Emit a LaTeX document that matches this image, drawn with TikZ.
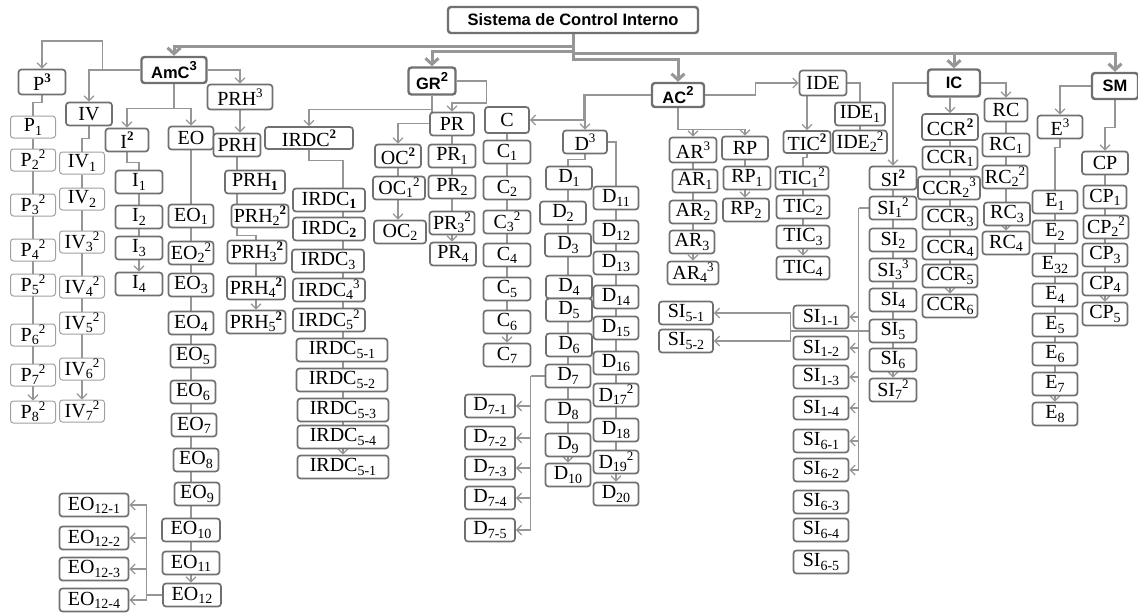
\documentclass[tikz,border=0pt]{standalone}
\usepackage{fontspec}
\setmainfont{Liberation Serif}
\setsansfont{Liberation Sans}
\usepackage{tikz}
\usetikzlibrary{backgrounds, arrows.meta, positioning}
\definecolor{boxgray}{RGB}{112,112,112}
\definecolor{lightbox}{RGB}{160,160,160}
\definecolor{linegray}{RGB}{150,150,150}
\newcommand{\sbs}[1]{\raisebox{-0.35ex}{\fontsize{14}{14}\selectfont #1}}
\newcommand{\sps}[1]{\raisebox{0.85ex}{\fontsize{13}{13}\selectfont #1}}
\newcommand{\bsps}[1]{\sps{\bfseries #1}}

\begin{document}
\begin{tikzpicture}[
    x=1pt, y=-1pt,
    box/.style={draw=boxgray, line width=1.7pt, rounded corners=3pt, fill=white, minimum height=23pt, minimum width=46pt, inner sep=1pt, font=\fontsize{20}{22}\selectfont},
    thinbox/.style={box, draw=lightbox, line width=1pt, minimum height=22pt},
    head/.style={box, line width=2.4pt, minimum height=26pt, font=\sffamily\bfseries\fontsize{16.5}{18}\selectfont},
    bw/.style={minimum width=#1pt},
    link/.style={draw=linegray, line width=1.2pt},
    arrow/.style={link, -{Straight Barb[length=5pt,width=10pt]}},
    mainarrow/.style={draw=linegray, line width=3pt, -{Straight Barb[length=6pt,width=13pt]}},
  ]
  \useasboundingbox (0,0) rectangle (1138,613);

  % Top level
  \node[head, bw=250] (sci) at (573,20) {Sistema de Control Interno};
  \node[head, bw=65] (amc) at (174,70) {AmC\sps{3}};
  \node[head, bw=47, minimum height=27pt] (gr) at (432,81) {GR\sps{2}};
  \node[head, bw=52, minimum height=24pt] (ac) at (678,95) {AC\sps{2}};
  \node[head, bw=52, minimum height=27pt] (ic) at (954,83) {IC};
  \node[head, bw=46] (sm) at (1115,86) {SM};

  % P column
  \node[box, bw=47, minimum height=25pt] (ph) at (42,82) {P\bsps{3}};
  \node[thinbox, bw=45] (p1) at (33,127) {P\sbs{1}};
  \node[thinbox, bw=45] (p2) at (33,160) {P\sbs{2}\sps{2}};
  \node[thinbox, bw=45] (p3) at (33,205) {P\sbs{3}\sps{2}};
  \node[thinbox, bw=45] (p4) at (33,250) {P\sbs{4}\sps{2}};
  \node[thinbox, bw=45] (p5) at (33,285) {P\sbs{5}\sps{2}};
  \node[thinbox, bw=45] (p6) at (33,335) {P\sbs{6}\sps{2}};
  \node[thinbox, bw=45] (p7) at (33,375) {P\sbs{7}\sps{2}};
  \node[thinbox, bw=45] (p8) at (33,412) {P\sbs{8}\sps{2}};

  % IV column
  \node[box, bw=46] (ivh) at (89,114) {IV};
  \node[thinbox, bw=45] (iv1) at (82,163) {IV\sbs{1}};
  \node[thinbox, bw=45] (iv2) at (82,199) {IV\sbs{2}};
  \node[thinbox, bw=45] (iv3) at (82,242) {IV\sbs{3}\sps{2}};
  \node[thinbox, bw=45] (iv4) at (82,287) {IV\sbs{4}\sps{2}};
  \node[thinbox, bw=45] (iv5) at (82,323) {IV\sbs{5}\sps{2}};
  \node[thinbox, bw=45] (iv6) at (82,369) {IV\sbs{6}\sps{2}};
  \node[thinbox, bw=45] (iv7) at (82,411) {IV\sbs{7}\sps{2}};

  % I column
  \node[box, bw=43] (ih) at (127,140) {I\bsps{2}};
  \node[box, bw=47] (i1) at (139,182) {I\sbs{1}};
  \node[box, bw=47] (i2) at (139,217) {I\sbs{2}};
  \node[box, bw=47] (i3) at (139,248) {I\sbs{3}};
  \node[box, bw=47] (i4) at (139,284) {I\sbs{4}};

  % EO column
  \node[box, bw=45] (eoh) at (191,138) {EO};
  \node[box, bw=45] (eo1) at (191,216) {EO\sbs{1}};
  \node[box, bw=45] (eo2) at (191,253) {EO\sbs{2}\sps{2}};
  \node[box, bw=45] (eo3) at (191,285) {EO\sbs{3}};
  \node[box, bw=45] (eo4) at (191,323) {EO\sbs{4}};
  \node[box, bw=45] (eo5) at (193,356) {EO\sbs{5}};
  \node[box, bw=45] (eo6) at (193,392) {EO\sbs{6}};
  \node[box, bw=45] (eo7) at (194,425) {EO\sbs{7}};
  \node[box, bw=45] (eo8) at (196,460) {EO\sbs{8}};
  \node[box, bw=45] (eo9) at (197,494) {EO\sbs{9}};
  \node[box, bw=58] (eo10) at (191,530) {EO\sbs{10}};
  \node[box, bw=57] (eo11) at (191,563) {EO\sbs{11}};
  \node[box, bw=58] (eo12) at (192,595) {EO\sbs{12}};
  \node[box, bw=69] (eoa) at (94,505) {EO\sbs{12-1}};
  \node[box, bw=69] (eob) at (94,538) {EO\sbs{12-2}};
  \node[box, bw=69] (eoc) at (94,569) {EO\sbs{12-3}};
  \node[box, bw=69] (eod) at (94,600) {EO\sbs{12-4}};

  % PRH column
  \node[box, bw=65, minimum height=25pt] (prhh) at (240,97) {PRH\sps{3}};
  \node[box, bw=47] (prh) at (237,145) {PRH};
  \node[box, bw=60] (prh1) at (255,182) {PRH\sbs{\bfseries 1}};
  \node[box, bw=57] (prh2) at (260,216) {PRH\sbs{2}\bsps{2}};
  \node[box, bw=59] (prh3) at (257,252) {PRH\sbs{3}\bsps{2}};
  \node[box, bw=58] (prh4) at (256,288) {PRH\sbs{4}\bsps{2}};
  \node[box, bw=59] (prh5) at (256,322) {PRH\sbs{5}\bsps{2}};

  % IRDC column
  \node[box, bw=88, minimum height=22pt] (irdch) at (309,138) {IRDC\bsps{2}};
  \node[box, bw=72] (irdc1) at (329,200) {IRDC\sbs{\bfseries 1}};
  \node[box, bw=72] (irdc2) at (329,229) {IRDC\sbs{\bfseries 2}};
  \node[box, bw=72] (irdc3) at (328,261) {IRDC\sbs{3}};
  \node[box, bw=72] (irdc4) at (329,290) {IRDC\sbs{4}\sps{3}};
  \node[box, bw=72] (irdc5) at (329,320) {IRDC\sbs{5}\sps{2}};
  \node[box, bw=91] (irdca) at (342,350) {IRDC\sbs{5-1}};
  \node[box, bw=91] (irdcb) at (342,380) {IRDC\sbs{5-2}};
  \node[box, bw=91] (irdcc) at (343,410) {IRDC\sbs{5-3}};
  \node[box, bw=91] (irdcd) at (343,437) {IRDC\sbs{5-4}};
  \node[box, bw=91] (irdce) at (343,467) {IRDC\sbs{5-1}};

  % OC and PR columns
  \node[box, bw=46] (och) at (398,156) {OC\bsps{2}};
  \node[box, bw=52] (oc1) at (399,188) {OC\sbs{1}\sps{2}};
  \node[box, bw=52] (oc2) at (400,232) {OC\sbs{2}};
  \node[box, bw=44] (prg) at (452,124) {PR};
  \node[box, bw=47] (pr1) at (452,156) {PR\sbs{1}};
  \node[box, bw=47] (pr2) at (452,187) {PR\sbs{2}};
  \node[box, bw=45] (pr3) at (452,223) {PR\sbs{3}\sps{2}};
  \node[box, bw=46] (pr4) at (453,254) {PR\sbs{4}};

  % C column
  \node[box, bw=44, minimum height=26pt] (ch) at (507,120) {C};
  \node[box, bw=47] (c1) at (507,152) {C\sbs{1}};
  \node[box, bw=47] (c2) at (507,188) {C\sbs{2}};
  \node[box, bw=47] (c3) at (507,222) {C\sbs{3}\sps{2}};
  \node[box, bw=47] (c4) at (507,255) {C\sbs{4}};
  \node[box, bw=47] (c5) at (507,289) {C\sbs{5}};
  \node[box, bw=47] (c6) at (507,322) {C\sbs{6}};
  \node[box, bw=47] (c7) at (507,355) {C\sbs{7}};

  % D columns
  \node[box, bw=44] (dh) at (585,142) {D\sps{3}};
  \node[box, bw=46] (d1) at (569,178) {D\sbs{1}};
  \node[box, bw=46] (d2) at (563,213) {D\sbs{2}};
  \node[box, bw=46] (d3) at (568,245) {D\sbs{3}};
  \node[box, bw=46] (d4) at (569,287) {D\sbs{4}};
  \node[box, bw=46] (d5) at (569,310) {D\sbs{5}};
  \node[box, bw=46] (d6) at (569,345) {D\sbs{6}};
  \node[box, bw=45] (d7) at (568,376) {D\sbs{7}};
  \node[box, bw=45] (d8) at (568,411) {D\sbs{8}};
  \node[box, bw=45] (d9) at (568,445) {D\sbs{9}};
  \node[box, bw=45] (d10) at (568,475) {D\sbs{10}};
  \node[box, bw=45] (d11) at (616,198) {D\sbs{11}};
  \node[box, bw=45] (d12) at (616,232) {D\sbs{12}};
  \node[box, bw=45] (d13) at (616,263) {D\sbs{13}};
  \node[box, bw=45] (d14) at (616,297) {D\sbs{14}};
  \node[box, bw=45] (d15) at (616,328) {D\sbs{15}};
  \node[box, bw=45] (d16) at (616,363) {D\sbs{16}};
  \node[box, bw=45] (d17) at (616,395) {D\sbs{17}\sps{2}};
  \node[box, bw=45] (d18) at (616,430) {D\sbs{18}};
  \node[box, bw=45] (d19) at (616,462) {D\sbs{19}\sps{2}};
  \node[box, bw=45] (d20) at (616,494) {D\sbs{20}};
  \node[box, bw=50] (d7a) at (490,406) {D\sbs{7-1}};
  \node[box, bw=50] (d7b) at (490,438) {D\sbs{7-2}};
  \node[box, bw=50] (d7c) at (490,468) {D\sbs{7-3}};
  \node[box, bw=50] (d7d) at (490,498) {D\sbs{7-4}};
  \node[box, bw=50] (d7e) at (490,530) {D\sbs{7-5}};

  % AR and RP columns
  \node[box, bw=47, minimum height=25pt] (arh) at (693,150) {AR\sps{3}};
  \node[box, bw=45] (ar1) at (695,181) {AR\sbs{1}};
  \node[box, bw=47] (ar2) at (693,212) {AR\sbs{2}};
  \node[box, bw=45] (ar3) at (692,242) {AR\sbs{3}};
  \node[box, bw=51] (ar4) at (693,273) {AR\sbs{4}\sps{3}};
  \node[box, bw=46] (rph) at (745,148) {RP};
  \node[box, bw=47] (rp1) at (747,178) {RP\sbs{1}};
  \node[box, bw=46] (rp2) at (746,210) {RP\sbs{2}};

  % IDE and TIC
  \node[box, bw=47, minimum height=25pt] (ideh) at (823,83) {IDE};
  \node[box, bw=50] (ide1) at (860,114) {IDE\sbs{1}};
  \node[box, bw=54] (ide2) at (860,142) {IDE\sbs{2}\sps{2}};
  \node[box, bw=47, minimum height=22pt] (tich) at (807,142) {TIC\bsps{2}};
  \node[box, bw=53] (tic1) at (802,178) {TIC\sbs{1}\sps{2}};
  \node[box, bw=53] (tic2) at (803,207) {TIC\sbs{2}};
  \node[box, bw=53] (tic3) at (803,237) {TIC\sbs{3}};
  \node[box, bw=53] (tic4) at (803,268) {TIC\sbs{4}};

  % CCR and RC columns
  \node[box, bw=56, minimum height=26pt] (ccrh) at (950,127) {CCR\bsps{2}};
  \node[box, bw=55] (ccr1) at (950,158) {CCR\sbs{1}};
  \node[box, bw=62] (ccr2) at (949,188) {CCR\sbs{2}\sps{3}};
  \node[box, bw=55] (ccr3) at (950,218) {CCR\sbs{3}};
  \node[box, bw=55] (ccr4) at (950,248) {CCR\sbs{4}};
  \node[box, bw=55] (ccr5) at (950,276) {CCR\sbs{5}};
  \node[box, bw=55] (ccr6) at (950,306) {CCR\sbs{6}};
  \node[box, bw=43] (rch) at (1006,110) {RC};
  \node[box, bw=47] (rc1) at (1006,145) {RC\sbs{1}};
  \node[box, bw=45] (rc2) at (1005,177) {RC\sbs{2}\sps{2}};
  \node[box, bw=46] (rc3) at (1007,214) {RC\sbs{3}};
  \node[box, bw=47] (rc4) at (1006,243) {RC\sbs{4}};

  % SI column
  \node[box, bw=47] (sih) at (893,178) {SI\bsps{2}};
  \node[box, bw=47] (si1) at (893,208) {SI\sbs{1}\sps{2}};
  \node[box, bw=47] (si2) at (893,240) {SI\sbs{2}};
  \node[box, bw=47] (si3) at (893,270) {SI\sbs{3}\sps{3}};
  \node[box, bw=47] (si4) at (893,300) {SI\sbs{4}};
  \node[box, bw=47] (si5) at (893,331) {SI\sbs{5}};
  \node[box, bw=47] (si6) at (893,360) {SI\sbs{6}};
  \node[box, bw=47] (si7) at (893,390) {SI\sbs{7}\sps{2}};
  \node[box, bw=55] (si1a) at (821,317) {SI\sbs{1-1}};
  \node[box, bw=55] (si1b) at (821,348) {SI\sbs{1-2}};
  \node[box, bw=55] (si1c) at (821,377) {SI\sbs{1-3}};
  \node[box, bw=55] (si1d) at (821,408) {SI\sbs{1-4}};
  \node[box, bw=55] (si6a) at (821,441) {SI\sbs{6-1}};
  \node[box, bw=55] (si6b) at (821,470) {SI\sbs{6-2}};
  \node[box, bw=55] (si6c) at (821,502) {SI\sbs{6-3}};
  \node[box, bw=55] (si6d) at (821,530) {SI\sbs{6-4}};
  \node[box, bw=55] (si6e) at (821,562) {SI\sbs{6-5}};
  \node[box, bw=54] (si5a) at (686,313) {SI\sbs{5-1}};
  \node[box, bw=54] (si5b) at (686,341) {SI\sbs{5-2}};

  % E and CP columns
  \node[box, bw=45] (eh) at (1060,127) {E\sps{3}};
  \node[box, bw=45] (e1) at (1055,202) {E\sbs{1}};
  \node[box, bw=45] (e2) at (1055,232) {E\sbs{2}};
  \node[box, bw=45] (e3) at (1055,265) {E\sbs{32}};
  \node[box, bw=45] (e4) at (1055,295) {E\sbs{4}};
  \node[box, bw=45] (e5) at (1055,325) {E\sbs{5}};
  \node[box, bw=45] (e6) at (1055,354) {E\sbs{6}};
  \node[box, bw=45] (e7) at (1055,384) {E\sbs{7}};
  \node[box, bw=45] (e8) at (1055,414) {E\sbs{8}};
  \node[box, bw=46] (cph) at (1105,163) {CP};
  \node[box, bw=43] (cp1) at (1105,197) {CP\sbs{1}};
  \node[box, bw=45] (cp2) at (1106,227) {CP\sbs{2}\sps{2}};
  \node[box, bw=45] (cp3) at (1105,255) {CP\sbs{3}};
  \node[box, bw=45] (cp4) at (1105,284) {CP\sbs{4}};
  \node[box, bw=45] (cp5) at (1105,314) {CP\sbs{5}};

  % Connectors behind the boxes
  \begin{scope}[on background layer]
    % main branches
    \draw[mainarrow] (sci.south) -- ++(0,12) -| (amc.north);
    \draw[mainarrow] (sci.south) -- ++(0,17) -| (gr.north);
    \draw[mainarrow] (sci.south) -- ++(0,25) -| (ac.north);
    \draw[mainarrow] (sci.south) -- ++(0,19) -| (ic.north);
    \draw[mainarrow] (sci.south) -- ++(0,19) -| (sm.north);

    % AmC
    \draw[arrow] (amc.west) -| ++(-38,-29) -| (ph.north);
    \draw[arrow] (amc.west) -| (ivh.north);
    \draw[arrow] (amc.east) -| (prhh.north);
    \draw[arrow] (amc.south) -- ++(0,24) -| (ih.north);
    \draw[arrow] (amc.south) -- ++(0,24) -| (eoh.north);
    \draw[link] (ph.south) -- ++(0,7) -| (p1.north);
    \draw[arrow] (p1.south) -- (p8.north);
    \draw[link] (ivh.south) -- ++(0,12) -| (iv1.north);
    \draw[arrow] (iv1.south) -- (iv7.north);
    \draw[link] (ih.south) -- ++(0,10) -| (i1.north);
    \draw[arrow] (i1.south) -- (i4.north);
    \draw[arrow] (eoh.south) -- (eoh.south |- eo12.north);
    \draw[link] (eo12.west) -- ++(-16,0) coordinate (eobr);
    \foreach \k in {eoa,eob,eoc,eod} \draw[arrow] (eobr) |- (\k.east);
    \draw[arrow] (prhh.south) -- (prhh.south |- prh.north);
    \draw[arrow] (prh.south) -- ++(0,78) -| (prh5.north);

    % GR
    \draw[arrow] (gr.south) -- ++(0,14) -| (irdch.north);
    \draw[arrow] (gr.south) -- ++(0,28) -| (och.north);
    \draw[arrow] (gr.east) -- ++(30,0) -- ++(0,22) -| (prg.north);
    \draw[arrow] (irdch.south) -- ++(0,11) -| (irdce.north);
    \draw[arrow] (och.south) -- (och.south |- oc2.north);
    \draw[arrow] (prg.south) -- (prg.south |- pr4.north);

    % AC
    \draw[arrow] (ac.west) -| (dh.north);
    \draw[arrow] (ac.west) -| ++(-67,25) -- (ch.east);
    \draw[arrow] (ch.south) -- (ch.south |- c7.north);
    \draw[arrow] (dh.south) -- ++(0,5) -| (d10.north);
    \draw[arrow] (dh.east) -| (d20.north);
    \draw[link] (d7.west) -- ++(-14,0) coordinate (dbr);
    \foreach \k in {d7a,d7b,d7c,d7d,d7e} \draw[arrow] (dbr) |- (\k.east);
    \draw[arrow] (ac.south) -- ++(0,21) -| (arh.north);
    \draw[arrow] (ac.south) -- ++(0,21) -| (rph.north);
    \draw[arrow] (arh.south) -- (arh.south |- ar4.north);
    \draw[arrow] (rph.south) -- (rph.south |- rp2.north);
    \draw[arrow] (ac.east) -- ++(50,0) |- (ideh.west);
    \draw[arrow] (tich.north |- ideh.south) -- (tich.north);
    \draw[link] (ideh.east) -| (ide1.north);
    \draw[link] (ide1.south) -- (ide2.north);
    \draw[arrow] (tich.south) -- ++(0,4) -| (tic4.north);

    % IC
    \draw[arrow] (ic.west) -| (sih.north);
    \draw[arrow] (ccrh.north |- ic.south) -- (ccrh.north);
    \draw[arrow] (ic.east) -| (rch.north);
    \draw[arrow] (ccrh.south) -- (ccrh.south |- ccr6.north);
    \draw[arrow] (rch.south) -- (rch.south |- rc4.north);
    \draw[arrow] (sih.south) -- (sih.south |- si7.north);
    \draw[link] (si1.west) -- ++(-10,0) coordinate (sibr);
    \foreach \k in {si1a,si1b,si1c,si1d,si6a,si6b} \draw[arrow] (sibr) |- (\k.east);
    \draw[link] (si5.west) -- ++(-78,0) coordinate (si5br);
    \foreach \k in {si5a,si5b} \draw[arrow] (si5br) |- (\k.east);

    % SM
    \draw[arrow] (sm.west) -| (eh.north);
    \draw[arrow] (eh.south) -- ++(0,8) -| (e8.north);
    \draw[arrow] (sm.south) -- ++(0,27) -| (cph.north);
    \draw[arrow] (cph.south) -- (cph.south |- cp5.north);
  \end{scope}
\end{tikzpicture}
\end{document}
